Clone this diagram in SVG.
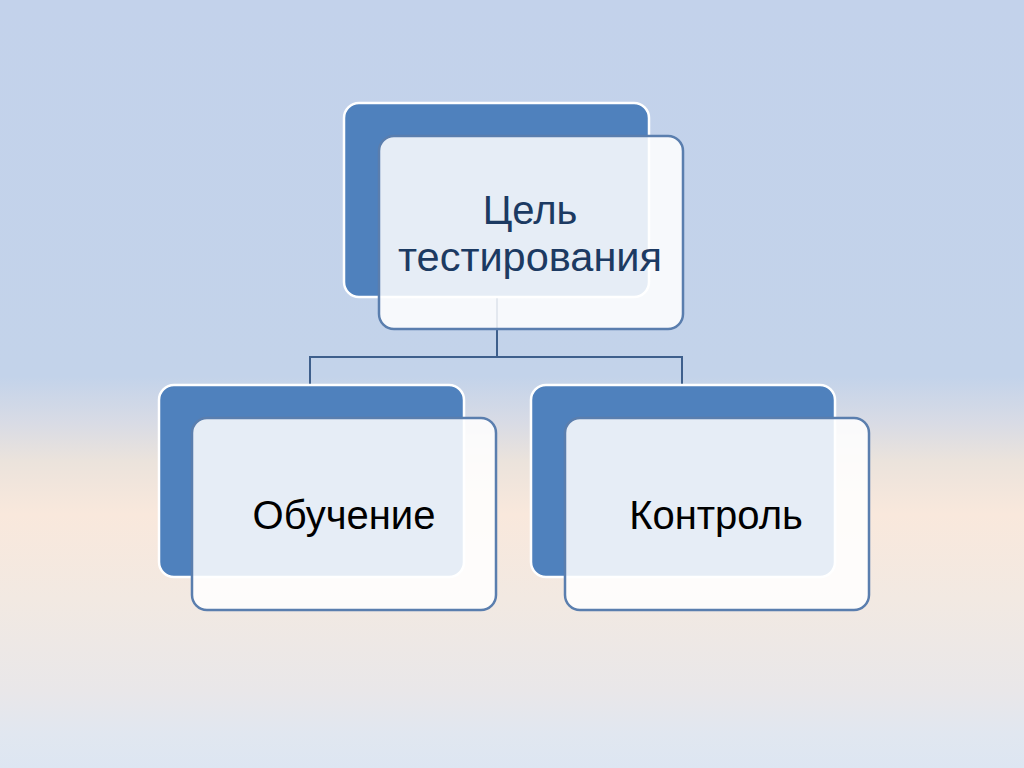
<svg xmlns="http://www.w3.org/2000/svg" width="1024" height="768" viewBox="0 0 1024 768">
  <defs>
    <linearGradient id="bg" x1="0" y1="0" x2="0" y2="1">
      <stop offset="0" stop-color="#c3d2eb"/>
      <stop offset="0.49" stop-color="#c3d3ea"/>
      <stop offset="0.55" stop-color="#d8dbe5"/>
      <stop offset="0.6" stop-color="#ebe3dc"/>
      <stop offset="0.67" stop-color="#f9e8dc"/>
      <stop offset="0.78" stop-color="#f2e9e2"/>
      <stop offset="0.9" stop-color="#e9e7e9"/>
      <stop offset="0.955" stop-color="#e1e7f0"/>
      <stop offset="1" stop-color="#dde6f2"/>
    </linearGradient>
    <style>
      .back { fill: #4f81bd; stroke: #ffffff; stroke-width: 2.5; }
      .front { fill: #ffffff; fill-opacity: 0.86; stroke: #5a7eae; stroke-width: 2.5; }
      .conn { fill: none; stroke: #3e5f8c; stroke-width: 2; }
      .label { font-family: "Liberation Sans", Arial, sans-serif; font-size: 40px; text-anchor: middle; }
      .top { fill: #1c3a62; }
      .bottom { fill: #000000; }
    </style>
  </defs>
  <rect x="0" y="0" width="1024" height="768" fill="url(#bg)"/>
  <g id="connectors">
    <path class="conn" d="M497,297 V357 M310,357 H682 M310,356 V386 M682,356 V386"/>
  </g>
  <g id="node-goal">
    <rect class="back" x="344" y="103" width="305" height="194" rx="15"/>
    <rect class="front" x="379" y="136" width="304" height="193" rx="15"/>
    <text class="label top" x="530" y="224" font-size="41">Цель</text>
    <text class="label top" x="530" y="271" textLength="264" lengthAdjust="spacingAndGlyphs">тестирования</text>
  </g>
  <g id="node-learning">
    <rect class="back" x="159" y="385" width="305" height="192" rx="15"/>
    <rect class="front" x="192" y="418" width="304" height="192" rx="15"/>
    <text class="label bottom" x="344" y="529">Обучение</text>
  </g>
  <g id="node-control">
    <rect class="back" x="531" y="385" width="304" height="192" rx="15"/>
    <rect class="front" x="565" y="418" width="304" height="192" rx="15"/>
    <text class="label bottom" x="716" y="529">Контроль</text>
  </g>
</svg>
